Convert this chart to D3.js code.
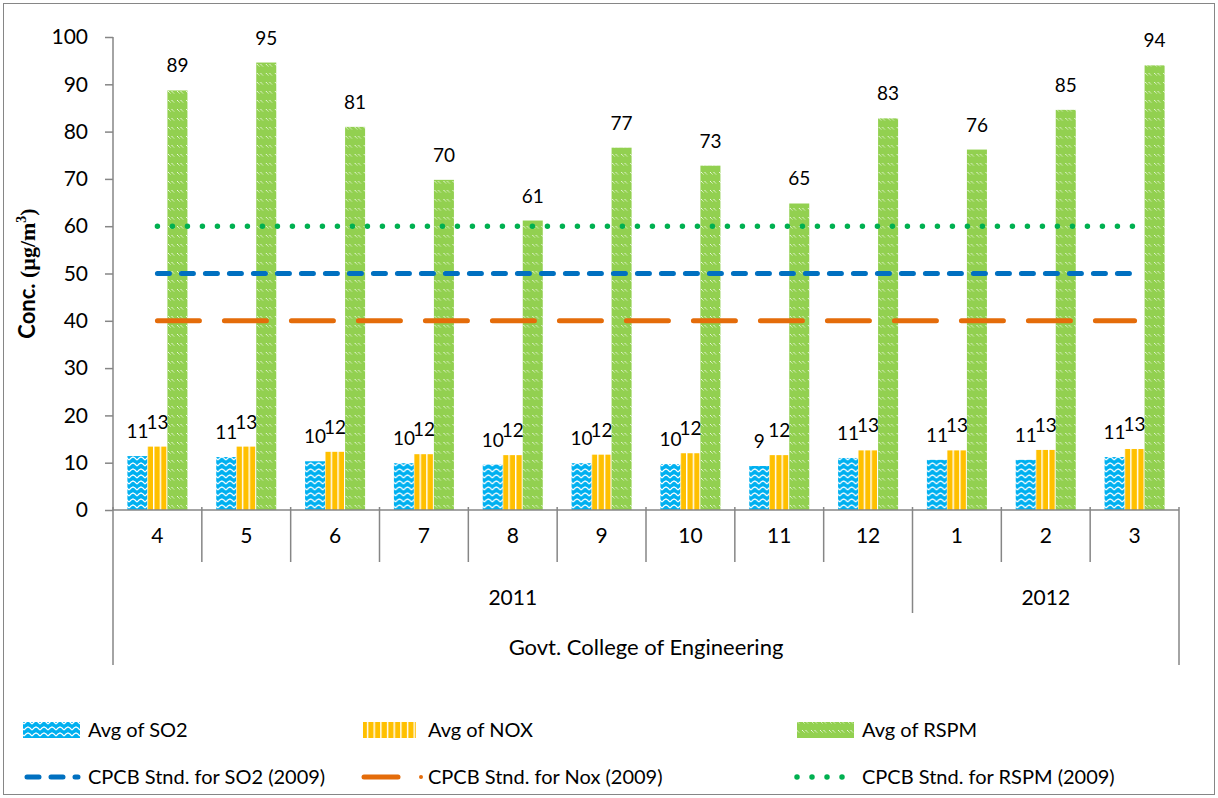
<!doctype html>
<html lang="en">
<head>
<meta charset="utf-8" />
<title>Govt. College of Engineering - monthly averages</title>
<script src="https://cdn.jsdelivr.net/npm/d3@7"></script>
<style>
	body { margin: 0; background: #fff; }
	svg { display: block; font-family: Lato, "Open Sans", sans-serif; }
</style>
</head>
<body>
<div id="chart"></div>
<script>
	// data
	const months = ["4", "5", "6", "7", "8", "9", "10", "11", "12", "1", "2", "3"];
	const years = ["2011", "2011", "2011", "2011", "2011", "2011", "2011", "2011", "2011", "2012", "2012", "2012"];
	const site = "Govt. College of Engineering";
	const so2 = [11.4, 11.2, 10.3, 9.9, 9.6, 9.9, 9.7, 9.3, 11.0, 10.6, 10.6, 11.2];
	const nox = [13.4, 13.4, 12.3, 11.8, 11.6, 11.7, 12.0, 11.6, 12.6, 12.6, 12.7, 12.9];
	const rspm = [88.7, 94.6, 81.0, 69.8, 61.2, 76.6, 72.8, 64.8, 82.8, 76.2, 84.6, 94.0];
	const seriesNames = ["Avg of SO2", "Avg of NOX", "Avg of RSPM"];
	const stdNames = ["CPCB Stnd. for SO2 (2009)", "CPCB Stnd. for Nox (2009)", "CPCB Stnd. for RSPM (2009)"];
	const stdValues = [50, 40, 60];
	const yTicks = [0, 10, 20, 30, 40, 50, 60, 70, 80, 90, 100];

	const W = 1218, H = 798;
	const M = { LEFT: 113, RIGHT: 39, TOP: 37, BOTTOM: 288 };
	const axisGrey = "#868686";

	const svg = d3.select("#chart").append("svg").attr("width", W).attr("height", H);

	// patterns for the bars
	const defs = svg.append("defs");
	const pSo2 = defs.append("pattern").attr("id", "p-so2").attr("patternUnits", "userSpaceOnUse")
		.attr("width", 8).attr("height", 6);
	pSo2.append("rect").attr("width", 8).attr("height", 6).attr("fill", "#00B0F0");
	pSo2.append("path").attr("d", "M0,4 L2,2 L4,1 L6,2 L8,4").attr("fill", "none")
		.attr("stroke", "#fff").attr("stroke-width", 1.2);
	const pNox = defs.append("pattern").attr("id", "p-nox").attr("patternUnits", "userSpaceOnUse")
		.attr("width", 6.67).attr("height", 6);
	pNox.append("rect").attr("width", 6.67).attr("height", 6).attr("fill", "#FFC000");
	pNox.append("rect").attr("x", 0).attr("width", 1.4).attr("height", 6).attr("fill", "#fff");
	const pRspm = defs.append("pattern").attr("id", "p-rspm").attr("patternUnits", "userSpaceOnUse")
		.attr("width", 9).attr("height", 9);
	pRspm.append("rect").attr("width", 9).attr("height", 9).attr("fill", "#92D050");
	pRspm.append("path").attr("d", "M1,1 L4,4 M4.5,1 L7.5,4").attr("stroke", "#fff")
		.attr("stroke-width", 1).attr("stroke-dasharray", "1.2 0.8");
	const fills = ["url(#p-so2)", "url(#p-nox)", "url(#p-rspm)"];
	const stdColors = ["#0070C0", "#E46C0A", "#00B050"];
	const stdDash = ["12 12", "42 25", "0 15"];
	const stdWidth = [5, 5, 5.5];

	// outer border
	svg.append("rect").attr("x", 3.5).attr("y", 3.5).attr("width", W - 7).attr("height", H - 7)
		.attr("fill", "none").attr("stroke", axisGrey).attr("stroke-width", 1);

	const x0 = d3.scaleBand().domain(d3.range(months.length)).range([M.LEFT, W - M.RIGHT]);
	const x1 = d3.scaleBand().domain(d3.range(3)).range([0, x0.bandwidth()]).paddingOuter(0.72);
	const y = d3.scaleLinear().domain([0, 100]).range([H - M.BOTTOM, M.TOP]);
	const y0 = y(0);

	// y axis
	const yAxis = svg.append("g").attr("transform", `translate(${M.LEFT},0)`)
		.call(d3.axisLeft(y).tickValues(yTicks).tickSize(8).tickPadding(17));
	yAxis.select(".domain").remove();
	yAxis.selectAll(".tick line").attr("stroke", axisGrey).attr("stroke-width", 1.5);
	yAxis.selectAll("text").attr("font-size", 21).attr("fill", "#000").attr("font-family", "Lato, sans-serif");

	svg.append("text")
		.attr("transform", `translate(35,${(y(0) + y(100)) / 2}) rotate(-90)`)
		.attr("text-anchor", "middle").attr("font-size", 22).attr("font-weight", "bold")
		.call((t) => {
			t.append("tspan").text("Conc. ");
			t.append("tspan").attr("font-family", "Liberation Serif, serif").text("(µg/m");
			t.append("tspan").attr("font-family", "Liberation Serif, serif").attr("font-size", 14).attr("dy", -9).text("3");
			t.append("tspan").attr("font-family", "Liberation Serif, serif").attr("dy", 9).text(")");
		});

	// bars
	const seriesData = [so2, nox, rspm];
	const groups = svg.append("g").selectAll("g").data(months).join("g")
		.attr("transform", (_, i) => `translate(${x0(i)},0)`);
	groups.selectAll("rect").data((_, i) => seriesData.map((s, k) => ({ k, v: s[i] }))).join("rect")
		.attr("x", (d) => x1(d.k)).attr("width", x1.bandwidth())
		.attr("y", (d) => y(d.v)).attr("height", (d) => y0 - y(d.v))
		.attr("fill", (d) => fills[d.k]);
	groups.selectAll("text").data((_, i) => seriesData.map((s, k) => ({ k, v: s[i] }))).join("text")
		.attr("x", (d) => x1(d.k) + x1.bandwidth() / 2).attr("y", (d) => y(d.v) - 18)
		.attr("text-anchor", "middle").attr("font-size", 19)
		.text((d) => d3.format(".0f")(d.v));

	// standard lines
	const xc = (i) => x0(i) + x0.bandwidth() / 2;
	const line = d3.line().x((d) => xc(d.i)).y((d) => y(d.v));
	stdValues.forEach((v, k) => {
		svg.append("path")
			.datum(months.map((_, i) => ({ i, v })))
			.attr("d", line).attr("fill", "none")
			.attr("stroke", stdColors[k]).attr("stroke-width", stdWidth[k])
			.attr("stroke-dasharray", stdDash[k]).attr("stroke-linecap", "round");
	});

	// category axis (three levels)
	const xa = svg.append("g").attr("stroke", axisGrey).attr("stroke-width", 1.5);
	xa.append("line").attr("x1", M.LEFT).attr("x2", W - M.RIGHT).attr("y1", y0).attr("y2", y0);
	xa.append("line").attr("x1", M.LEFT).attr("x2", M.LEFT).attr("y1", M.TOP).attr("y2", y0);
	const bounds = d3.range(months.length + 1);
	const edgeX = (i) => (i < months.length ? x0(i) : x0(months.length - 1) + x0.bandwidth());
	const lev1 = y0 + 52, lev2 = y0 + 103, lev3 = y0 + 155;
	xa.selectAll(".b").data(bounds).join("line")
		.attr("x1", edgeX).attr("x2", edgeX).attr("y1", y0 - 3)
		.attr("y2", (i) => {
			if (i === 0 || i === months.length) return lev3;
			if (years[i] !== years[i - 1]) return lev2;
			return lev1;
		});

	svg.append("g").selectAll("text").data(months).join("text")
		.attr("x", (_, i) => xc(i)).attr("y", y0 + 33)
		.attr("text-anchor", "middle").attr("font-size", 21).text((d) => d);

	const yearGroups = d3.groups(years.map((yr, i) => ({ yr, i })), (d) => d.yr);
	svg.append("g").selectAll("text").data(yearGroups).join("text")
		.attr("x", ([, arr]) => (edgeX(arr[0].i) + edgeX(arr[arr.length - 1].i + 1)) / 2)
		.attr("y", y0 + 95).attr("text-anchor", "middle").attr("font-size", 21)
		.text(([yr]) => yr);
	svg.append("text").attr("x", (M.LEFT + W - M.RIGHT) / 2).attr("y", y0 + 145)
		.attr("text-anchor", "middle").attr("font-size", 22).text(site);

	// legend
	const legX = [23, 363, 797];
	const leg = svg.append("g").attr("font-size", 20);
	seriesNames.forEach((name, k) => {
		leg.append("rect").attr("x", legX[k]).attr("y", 722).attr("width", k === 1 ? 53 : 57).attr("height", 16)
			.attr("fill", fills[k]);
		leg.append("text").attr("x", k === 1 ? 428 : legX[k] + 65).attr("y", 737).text(name);
	});
	const legLine = [[27, 78], [364, 398], [797, 848]];
	stdNames.forEach((name, k) => {
		leg.append("line").attr("x1", legLine[k][0]).attr("x2", legLine[k][1]).attr("y1", 777).attr("y2", 777)
			.attr("stroke", stdColors[k]).attr("stroke-width", stdWidth[k])
			.attr("stroke-dasharray", k === 1 ? null : stdDash[k]).attr("stroke-linecap", "round");
		if (k === 1) leg.append("circle").attr("cx", 421).attr("cy", 777).attr("r", 2).attr("fill", stdColors[k]);
		leg.append("text").attr("x", k === 1 ? 428 : legX[k] + 65).attr("y", 784).text(name);
	});
</script>
</body>
</html>
